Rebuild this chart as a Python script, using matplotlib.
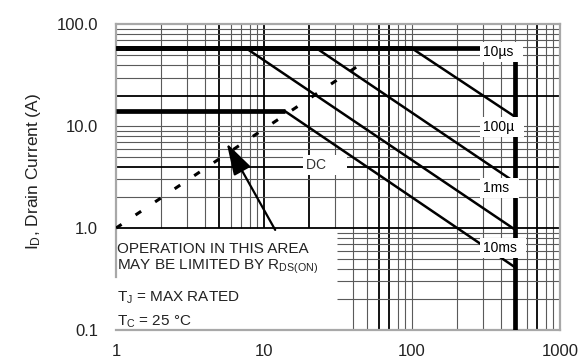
import matplotlib
matplotlib.use("Agg")
import matplotlib.pyplot as plt
import numpy as np

plt.rcParams["font.family"] = ["Liberation Sans", "DejaVu Sans"]
plt.rcParams["mathtext.default"] = "regular"

# ---- Safe operating area data ----
i_pulse_max = 58.0            # pulsed current limit (A)
bvdss = 500.0                 # drain-source breakdown voltage (V)
pulse_labels = ["10\u00b5s", "100\u00b5", "1ms", "10ms"]
pulse_knee_v = [500.0, 100.0, 22.7, 7.6]   # where the power limit starts (V)
pulse_end_i = [58.0, 12.3, 2.8, 0.96]      # current at BVDSS (A)
dc_i_max = 14.0
dc_knee_v = 13.9
dc_end_i = 0.41
rds_v = [1.0, 50.0]           # R_DS(on) limit line
rds_i = [1.0, 45.0]

x_ticks = [1, 10, 100, 1000]
x_tick_labels = ["1", "10", "100", "1000"]
y_ticks = [0.1, 1, 10, 100]
y_tick_labels = ["0.1", "1.0", "10.0", "100.0"]

fig = plt.figure(figsize=(5.8, 3.61), dpi=100)
ax = fig.add_axes([0.2, 0.0859, 0.7655, 0.8468])
ax.set_xscale("log")
ax.set_yscale("log")
ax.set_xlim(1, 1000)
ax.set_ylim(0.1, 100)

# ---- log graph-paper grid, left blank behind the notes box ----
box_x, box_y = 31.0, 1.0
dark_x = {5, 10, 20, 60, 70, 700}
dark_y = {4, 20}
grid_vals_x = [m * 10 ** k for k in range(3) for m in range(1, 10)][1:]
grid_vals_y = [m * 10.0 ** k for k in range(-1, 2) for m in range(1, 10)][1:]
for gx in grid_vals_x:
    y0 = box_y if gx < box_x else 0.1
    dark = round(gx) in dark_x
    ax.vlines(gx, y0, 100, colors="black" if dark else "#5a5a5a",
              lw=1.3 if dark else 0.8, zorder=1)
for gy in grid_vals_y:
    x0 = box_x if gy < box_y - 1e-9 else 1
    key = round(gy) if gy >= 1 else None
    dark = key in dark_y
    is_one = abs(gy - 1.0) < 1e-9
    ax.hlines(gy, x0, 1000, colors="black" if (dark or is_one) else "#5a5a5a",
              lw=1.3 if (dark or is_one) else 0.8, zorder=1)

# ---- limit curves ----
thick, thin = 3.4, 1.8
for knee, end in zip(pulse_knee_v, pulse_end_i):
    ax.plot([1, knee], [i_pulse_max, i_pulse_max], color="black", lw=thick,
            solid_capstyle="butt", zorder=3)
    if knee < bvdss:
        ax.plot([knee, bvdss], [i_pulse_max, end], color="black", lw=thin, zorder=3)
ax.plot([1, dc_knee_v], [dc_i_max, dc_i_max], color="black", lw=thick,
        solid_capstyle="butt", zorder=3)
ax.plot([dc_knee_v, bvdss], [dc_i_max, dc_end_i], color="black", lw=thin, zorder=3)
ax.plot([bvdss, bvdss], [0.1, i_pulse_max], color="black", lw=thick,
        solid_capstyle="butt", zorder=3)
ax.plot(rds_v, rds_i, color="black", lw=2.2, linestyle=(0, (2.2, 5.5)), zorder=3)

# ---- curve labels on the BVDSS line ----
label_y = [53.5, 9.85, 2.48, 0.64]
box = dict(boxstyle="square,pad=0.2", fc="white", ec="none")
for txt, ly in zip(pulse_labels, label_y):
    ax.text(300, ly, txt + "\u2002", fontsize=10, ha="left", va="center",
            bbox=box, zorder=4)
ax.text(19.3, 4.15, "DC\u2003 ", fontsize=10, ha="left", va="center",
        bbox=box, zorder=4, color="#333333")

# ---- notes ----
ax.annotate("", xy=(5.6, 6.8), xytext=(11.9, 0.96),
            arrowprops=dict(arrowstyle="-|>,head_length=1.4,head_width=0.42",
                            mutation_scale=14, color="black", lw=1.6,
                            shrinkA=0, shrinkB=0), zorder=5)
ax.text(1.01, 0.62, "OPERATION IN THIS AREA", fontsize=11, ha="left",
        va="center", color="#222222", zorder=5)
ax.text(1.01, 0.42, "MAY BE LIMITED BY R$_{DS(ON)}$", fontsize=11, ha="left",
        va="center", color="#222222", zorder=5)
ax.text(1.01, 0.207, "T$_J$ = MAX RATED", fontsize=11, ha="left",
        va="center", color="#222222", zorder=5)
ax.text(1.01, 0.119, "T$_C$ = 25 \u00b0C", fontsize=11, ha="left",
        va="center", color="#222222", zorder=5)

# ---- axes styling ----
for side, sp in ax.spines.items():
    sp.set_color("#a8a8a8")
    sp.set_linewidth(1.6)
    sp.set_zorder(2)
ax.spines["left"].set_bounds(0.33, 100)

ax.set_xticks(x_ticks)
ax.set_xticklabels(x_tick_labels)
ax.set_yticks(y_ticks)
ax.set_yticklabels(y_tick_labels)
ax.minorticks_off()
ax.tick_params(axis="both", length=0, labelsize=12, colors="#222222")
ax.tick_params(axis="x", pad=10)
ax.tick_params(axis="y", pad=13)
ax.set_ylabel("I$_D$, Drain Current (A)", fontsize=12.5, color="#222222", labelpad=14)
ax.yaxis.set_label_coords(-0.165, 0.52)

fig.savefig("out.png", dpi=100)
